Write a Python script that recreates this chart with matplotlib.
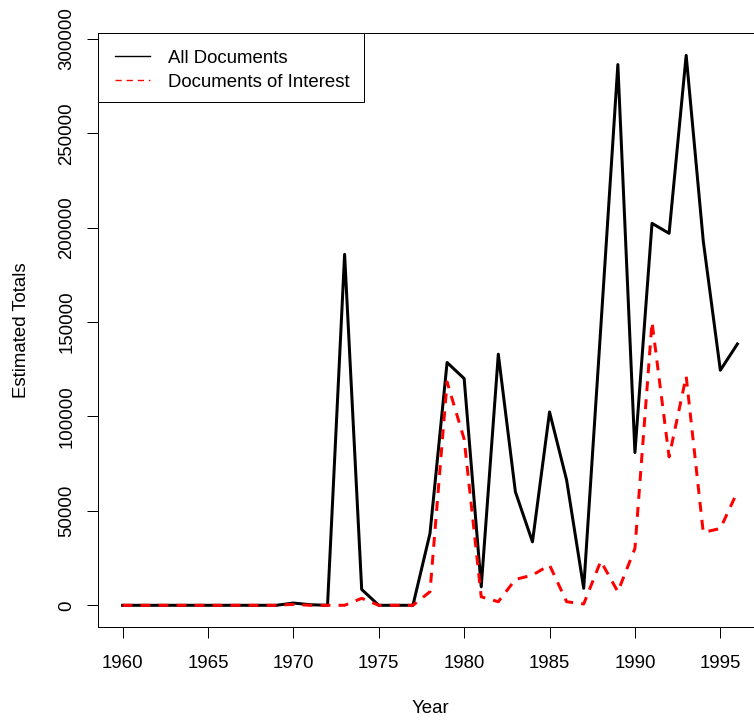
import matplotlib
matplotlib.use("Agg")
import matplotlib.pyplot as plt
from matplotlib.lines import Line2D
from matplotlib.patches import Rectangle

years = list(range(1960, 1997))
all_docs = [0, 0, 0, 0, 0, 0, 0, 0, 0, 0,
            1200, 300, 0, 185900, 8400, 0, 0, 0, 38100, 128600,
            120100, 9800, 133000, 60100, 33600, 102400, 66300, 9000, 147000, 286400,
            80900, 202300, 197000, 291300, 193000, 124500, 138400]
interest_docs = [0, 0, 0, 0, 0, 0, 0, 0, 0, 0,
                 500, 0, 0, 0, 3700, 0, 0, 0, 7200, 118300,
                 88000, 4500, 1900, 13700, 16000, 21300, 1900, 700, 23400, 7200,
                 30100, 150000, 78600, 121300, 38600, 40700, 60100]
x_ticks = [1960, 1965, 1970, 1975, 1980, 1985, 1990, 1995]
y_ticks = [0, 50000, 100000, 150000, 200000, 250000, 300000]
legend_labels = ["All Documents", "Documents of Interest"]

W, H = 754, 722
DPI = 100
PX = 72.0 / DPI  # points per pixel

plt.rcParams['font.family'] = ['Liberation Sans', 'DejaVu Sans']
FS = 18.7 * PX

fig = plt.figure(figsize=(W / DPI, H / DPI), dpi=DPI)
ax = fig.add_axes([98 / W, 1 - 627.3 / H, (762 - 98) / W, 594 / H])

ax.plot(years, all_docs, color='black', lw=3 * PX, solid_joinstyle='round')
ax.plot(years, interest_docs, color='#ff0000', lw=3 * PX, linestyle=(0, (3.3, 2.7)),
        dash_joinstyle='round')

xmin, xmax = min(years), max(years)
xr = xmax - xmin
ax.set_xlim(xmin - 0.04 * xr, xmax + 0.04 * xr)
ymin = min(min(all_docs), min(interest_docs))
ymax = max(max(all_docs), max(interest_docs))
yr = ymax - ymin
ax.set_ylim(ymin - 0.04 * yr, ymax + 0.04 * yr)

ax.set_xticks(x_ticks)
ax.set_xticklabels([str(v) for v in x_ticks])
ax.set_yticks(y_ticks)
ax.set_yticklabels([str(v) for v in y_ticks])
ax.tick_params(axis='both', direction='out', length=11.5 * PX, width=1 * PX,
               labelsize=FS, color='black')
ax.tick_params(axis='x', pad=16 * PX)
ax.tick_params(axis='y', pad=11 * PX)
for lab in ax.get_yticklabels():
    lab.set_rotation(90)
    lab.set_va('center')

for s in ax.spines.values():
    s.set_linewidth(1 * PX)
    s.set_color('black')

ax.set_xlabel("Year", fontsize=FS, labelpad=28 * PX)
ax.set_ylabel("Estimated Totals", fontsize=FS, labelpad=28 * PX)

# legend (R-style, top-left, inset 0)
def fx(px):
    return px / W

def fy(py):
    return 1 - py / H

fig.patches.append(Rectangle((fx(98), fy(101.7)), (364 - 98) / W, (101.7 - 33.3) / H,
                             transform=fig.transFigure, facecolor='white',
                             edgecolor='black', lw=1 * PX, zorder=5))
fig.lines.append(Line2D([fx(115), fx(150)], [fy(55.5), fy(55.5)], transform=fig.transFigure,
                        color='black', lw=1.0, zorder=6))
fig.lines.append(Line2D([fx(115), fx(150)], [fy(80), fy(80)], transform=fig.transFigure,
                        color='#ff0000', lw=1.0, linestyle=(0, (4.5, 3.5)), zorder=6))
fig.text(fx(167.7), fy(63.3), legend_labels[0], fontsize=FS, va='baseline', ha='left', zorder=7)
fig.text(fx(167.7), fy(87.0), legend_labels[1], fontsize=FS, va='baseline', ha='left', zorder=7)

fig.savefig("out.png", dpi=DPI)
